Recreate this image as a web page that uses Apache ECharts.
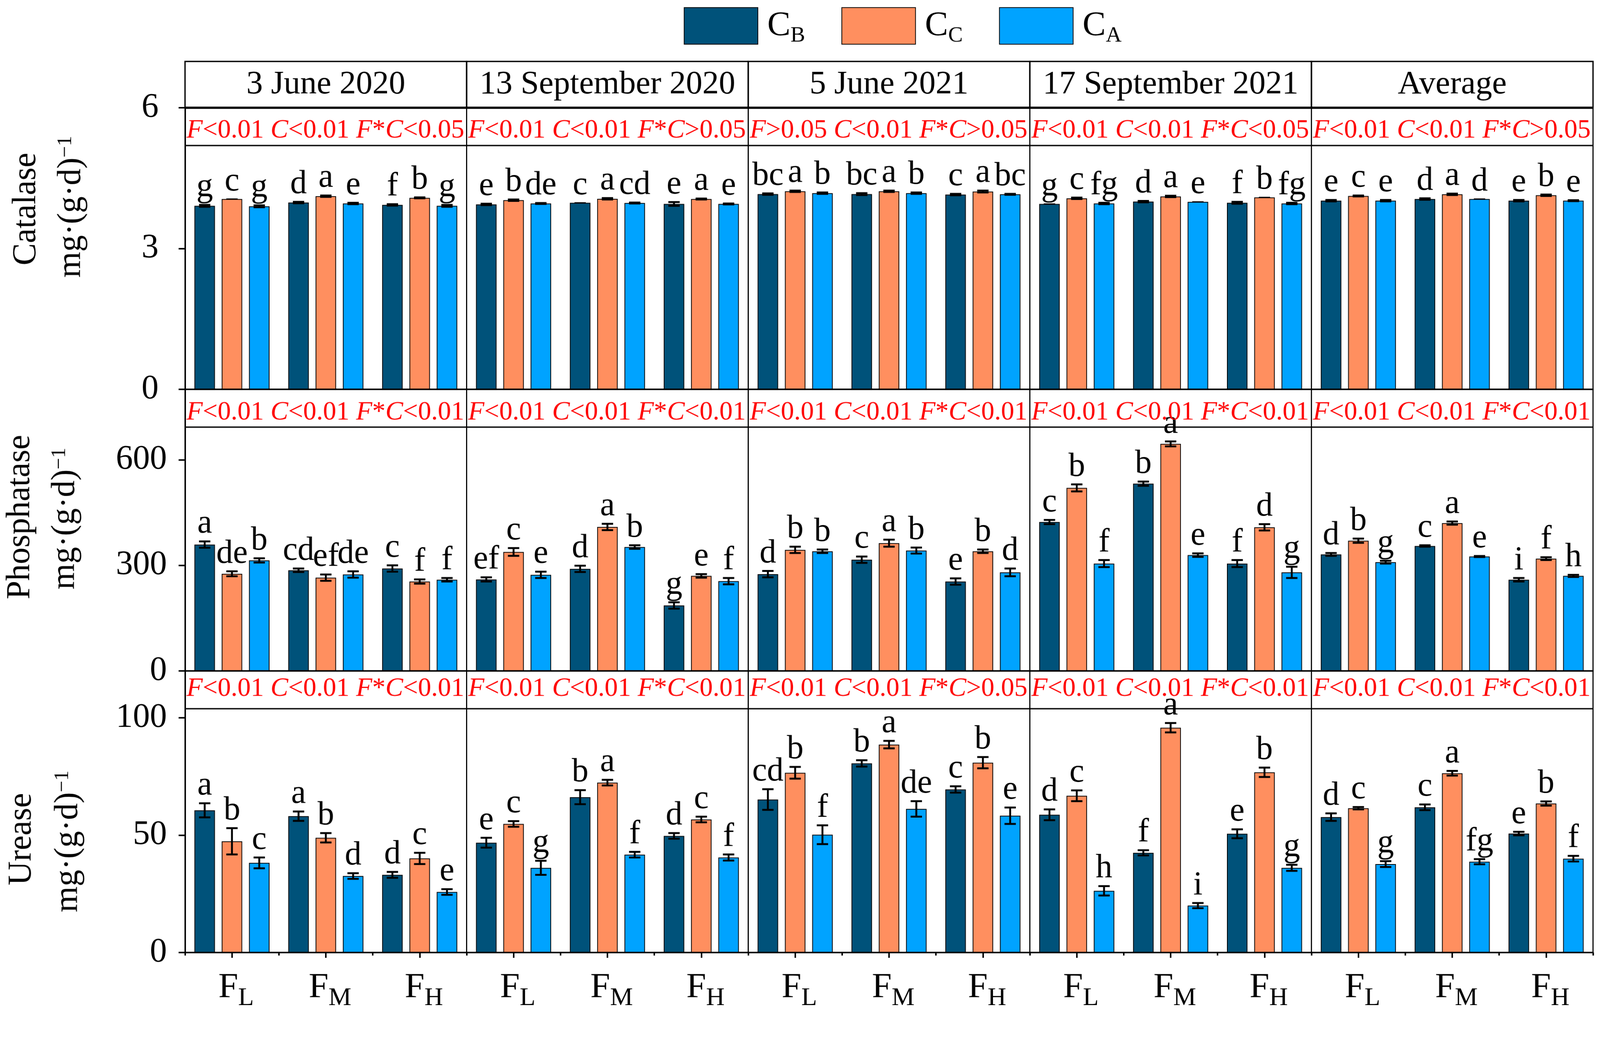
<!DOCTYPE html>
<html><head><meta charset="utf-8">
<script src="https://cdn.jsdelivr.net/npm/echarts@6/dist/echarts.min.js"></script>
<style>html,body{margin:0;padding:0;background:#fff;overflow:hidden}#c{width:4233px;height:2688px;transform-origin:0 0}</style>
</head><body><div id="c"></div>
<script>
// ---------------- DATA ----------------
const categories = ['FL', 'FM', 'FH'];
const panelTitles = ['3 June 2020', '13 September 2020', '5 June 2021', '17 September 2021', 'Average'];
const seriesNames = ['CB', 'CC', 'CA'];

// values: [panel][FL, FM, FH]
const catalaseCB = [[3.91, 3.98, 3.93], [3.94, 3.975, 3.95], [4.16, 4.16, 4.15], [3.95, 4.00, 3.975], [4.02, 4.055, 4.02]];
const catalaseCC = [[4.055, 4.115, 4.08], [4.03, 4.06, 4.055], [4.22, 4.22, 4.215], [4.07, 4.11, 4.09], [4.12, 4.155, 4.135]];
const catalaseCA = [[3.90, 3.96, 3.91], [3.96, 3.97, 3.95], [4.18, 4.18, 4.155], [3.96, 3.995, 3.96], [4.02, 4.055, 4.02]];
const catalaseErrCB = [[0.02, 0.015, 0.015], [0.015, 0.0, 0.04], [0.015, 0.02, 0.015], [0.0, 0.015, 0.02], [0.015, 0.015, 0.015]];
const catalaseErrCC = [[0.0, 0.015, 0.01], [0.015, 0.015, 0.01], [0.015, 0.015, 0.02], [0.015, 0.015, 0.0], [0.01, 0.015, 0.015]];
const catalaseErrCA = [[0.02, 0.015, 0.02], [0.01, 0.01, 0.01], [0.015, 0.015, 0.01], [0.015, 0.0, 0.015], [0.015, 0.0, 0.01]];
const catalaseLetters = [
  [['g', 'c', 'g'], ['d', 'a', 'e'], ['f', 'b', 'g']],
  [['e', 'b', 'de'], ['c', 'a', 'cd'], ['e', 'a', 'e']],
  [['bc', 'a', 'b'], ['bc', 'a', 'b'], ['c', 'a', 'bc']],
  [['g', 'c', 'fg'], ['d', 'a', 'e'], ['f', 'b', 'fg']],
  [['e', 'c', 'e'], ['d', 'a', 'd'], ['e', 'b', 'e']]
];
const catalaseStats = ['F<0.01 C<0.01 F*C<0.05', 'F<0.01 C<0.01 F*C>0.05', 'F>0.05 C<0.01 F*C>0.05', 'F<0.01 C<0.01 F*C<0.05', 'F<0.01 C<0.01 F*C>0.05'];
const catalaseTicks = { min: 0, max: 6, interval: 3 };

const phosphataseCB = [[359, 286, 291], [260, 290, 186], [275, 316, 254], [423, 532, 305], [331, 355, 259]];
const phosphataseCC = [[276, 265, 254], [338, 409, 270], [344, 363, 340], [520, 645, 408], [370, 420, 319]];
const phosphataseCA = [[314, 274, 259], [273, 352, 255], [340, 342, 280], [305, 329, 280], [309, 325, 270]];
const phosphataseErrCB = [[9, 5, 9], [6, 9, 9], [9, 9, 9], [6, 6, 10], [4, 2, 5]];
const phosphataseErrCC = [[7, 9, 6], [11, 9, 5], [9, 10, 5], [10, 7, 9], [6, 4.5, 4]];
const phosphataseErrCA = [[6, 9, 5], [9, 5, 9], [5, 8.5, 11], [10, 5, 16], [4, 1.5, 3]];
const phosphataseLetters = [
  [['a', 'de', 'b'], ['cd', 'ef', 'de'], ['c', 'f', 'f']],
  [['ef', 'c', 'e'], ['d', 'a', 'b'], ['g', 'e', 'f']],
  [['d', 'b', 'b'], ['c', 'a', 'b'], ['e', 'b', 'd']],
  [['c', 'b', 'f'], ['b', 'a', 'e'], ['f', 'd', 'g']],
  [['d', 'b', 'g'], ['c', 'a', 'e'], ['i', 'f', 'h']]
];
const phosphataseStats = ['F<0.01 C<0.01 F*C<0.01', 'F<0.01 C<0.01 F*C<0.01', 'F<0.01 C<0.01 F*C<0.01', 'F<0.01 C<0.01 F*C<0.01', 'F<0.01 C<0.01 F*C<0.01'];
const phosphataseTicks = { min: 0, max: 800, interval: 300 };

const ureaseCB = [[60.6, 58.1, 33.1], [46.8, 66.2, 49.7], [65.2, 80.6, 69.5], [58.7, 42.5, 50.6], [57.7, 61.9, 50.7]];
const ureaseCC = [[47.4, 48.9, 40.1], [54.8, 72.4, 56.7], [76.6, 88.6, 80.9], [66.8, 95.8, 76.8], [61.5, 76.4, 63.5]];
const ureaseCA = [[38.2, 32.6, 25.8], [36.1, 41.7, 40.5], [50.2, 61.2, 58.3], [26.3, 20.0, 36.1], [37.7, 38.7, 40.0]];
const ureaseErrCB = [[3, 2, 1.25], [2.1, 3, 1.2], [4.4, 1.35, 1.35], [2.3, 1.1, 1.9], [1.6, 1.2, 0.75]];
const ureaseErrCC = [[5.6, 2, 2.4], [1.2, 1.2, 1.2], [2.5, 1.6, 2.4], [2.3, 2, 2], [0.5, 1, 0.9]];
const ureaseErrCA = [[2.3, 1.2, 1.2], [3, 1.2, 1.3], [4, 3.3, 3.5], [2, 1.1, 1.3], [1.25, 1.1, 1.2]];
const ureaseLetters = [
  [['a', 'b', 'c'], ['a', 'b', 'd'], ['d', 'c', 'e']],
  [['e', 'c', 'g'], ['b', 'a', 'f'], ['d', 'c', 'f']],
  [['cd', 'b', 'f'], ['b', 'a', 'de'], ['c', 'b', 'e']],
  [['d', 'c', 'h'], ['f', 'a', 'i'], ['e', 'b', 'g']],
  [['d', 'c', 'g'], ['c', 'a', 'fg'], ['e', 'b', 'f']]
];
const ureaseStats = ['F<0.01 C<0.01 F*C<0.01', 'F<0.01 C<0.01 F*C<0.01', 'F<0.01 C<0.01 F*C>0.05', 'F<0.01 C<0.01 F*C<0.01', 'F<0.01 C<0.01 F*C<0.01'];
const ureaseTicks = { min: 0, max: 120, interval: 50 };

// ---------------- STYLE / LAYOUT ----------------
const FONT = 'Liberation Serif';
const COLORS = ['#00527A', '#FF8F5F', '#00A3FF'];
const COL0 = 489.5, PW = 745, ROW0 = 285, PH = 745, HEAD_TOP = 162.6, STRIP = 100;
const BAR_GAP = 0.33, CAT_GAP = 0.2;

const rows = [
  { name: 'Catalase', means: [catalaseCB, catalaseCC, catalaseCA], errs: [catalaseErrCB, catalaseErrCC, catalaseErrCA], letters: catalaseLetters, stats: catalaseStats, ticks: catalaseTicks, showMax: true, margin: 70, lift: 20, statsY: 61, t1: [70, 553], t2: [189, 547] },
  { name: 'Phosphatase', means: [phosphataseCB, phosphataseCC, phosphataseCA], errs: [phosphataseErrCB, phosphataseErrCC, phosphataseErrCA], letters: phosphataseLetters, stats: phosphataseStats, ticks: phosphataseTicks, showMax: false, margin: 48, lift: 8, statsY: 62, t1: [54, 1368], t2: [173, 1372] },
  { name: 'Urease', means: [ureaseCB, ureaseCC, ureaseCA], errs: [ureaseErrCB, ureaseErrCC, ureaseErrCA], letters: ureaseLetters, stats: ureaseStats, ticks: ureaseTicks, showMax: false, margin: 48, lift: 11, statsY: 48, t1: [58, 2220], t2: [181, 2226] }
];

function statsRich(s) {
  let out = '', buf = '';
  for (const ch of s) {
    if (ch === 'F' || ch === 'C') { if (buf) { out += '{n|' + buf + '}'; buf = ''; } out += '{i|' + ch + '}'; }
    else buf += ch;
  }
  if (buf) out += '{n|' + buf + '}';
  return out;
}

function makeErrSeries(g, row, p) {
  const data = [], labs = [];
  for (let c = 0; c < 3; c++) for (let k = 0; k < 3; k++) {
    data.push([c, k, row.means[k][p][c], row.errs[k][p][c]]);
    labs.push(row.letters[p][c][k]);
  }
  return {
    type: 'custom', xAxisIndex: g, yAxisIndex: g, data: data, encode: { x: 0, y: 2 }, clip: false, z: 5, silent: true,
    renderItem: function (params, api) {
      const c = api.value(0), k = api.value(1), v = api.value(2), e = api.value(3);
      const band = api.size([1, 0])[0];
      const group = band * (1 - CAT_GAP);
      const bw = group / (3 + 2 * BAR_GAP);
      const cx = api.coord([c, 0])[0] - group / 2 + bw / 2 + k * bw * (1 + BAR_GAP);
      const yT = api.coord([c, v + e])[1], yB = api.coord([c, v - e])[1];
      const cap = 15;
      const ls = { stroke: '#000', lineWidth: 5 };
      const children = [];
      if (e > 0) {
        children.push({ type: 'line', shape: { x1: cx, y1: yT, x2: cx, y2: yB }, style: ls });
        children.push({ type: 'line', shape: { x1: cx - cap, y1: yT, x2: cx + cap, y2: yT }, style: ls });
        children.push({ type: 'line', shape: { x1: cx - cap, y1: yB, x2: cx + cap, y2: yB }, style: ls });
      } else {
        children.push({ type: 'line', shape: { x1: cx - cap, y1: yT, x2: cx + cap, y2: yT }, style: { stroke: '#000', lineWidth: 3 } });
      }
      children.push({ type: 'text', style: { text: labs[params.dataIndex], x: cx, y: yT - 2, align: 'center', verticalAlign: 'bottom', fontSize: 88, fontFamily: FONT, fill: '#000' } });
      return { type: 'group', children: children };
    }
  };
}

const xRich = {
  m: { fontSize: 94, fontFamily: FONT, color: '#000', lineHeight: 94, padding: [0, 0, 0, 22] },
  s: { fontSize: 68, fontFamily: FONT, color: '#000', lineHeight: 68, padding: [56, 0, 0, 0] }
};

const option = {
  animation: false,
  backgroundColor: '#fff',
  legend: {
    data: seriesNames, left: 1804, top: 14, itemWidth: 195, itemHeight: 97, itemGap: 96, icon: 'rect', selectedMode: false,
    formatter: function (n) { return '{m|C}{s|' + n.charAt(1) + '}'; },
    textStyle: { rich: {
      m: { fontSize: 92, fontFamily: FONT, color: '#000', padding: [0, 0, 0, 20] },
      s: { fontSize: 58, fontFamily: FONT, color: '#000', padding: [52, 0, 0, 0] }
    } }
  },
  grid: [], xAxis: [], yAxis: [], series: [], graphic: []
};

rows.forEach(function (row, r) {
  for (let p = 0; p < 5; p++) {
    const g = r * 5 + p;
    const left = COL0 + p * PW, top = ROW0 + r * PH;
    option.grid.push({ left: left, top: top, width: PW, height: PH, show: true, borderColor: '#000', borderWidth: 3, outerBoundsMode: 'none', containLabel: false });
    option.xAxis.push({
      gridIndex: g, type: 'category', data: categories,
      axisLine: { show: true, lineStyle: { color: '#000', width: 4 } },
      axisTick: { show: r === 2, alignWithLabel: true, length: 14, lineStyle: { color: '#000', width: 4 } },
      axisLabel: { show: r === 2, margin: 46, interval: 0, formatter: function (v) { return '{m|F}{s|' + v.slice(1) + '}'; }, rich: xRich },
      splitLine: { show: false }
    });
    option.yAxis.push({
      gridIndex: g, type: 'value', min: row.ticks.min, max: row.ticks.max, interval: row.ticks.interval, show: p === 0,
      axisLine: { show: true, lineStyle: { color: '#000', width: 4 } },
      axisTick: { show: true, inside: false, length: 17, lineStyle: { color: '#000', width: 4 } },
      axisLabel: { margin: row.margin, fontSize: 90, fontFamily: FONT, color: '#000', showMaxLabel: row.showMax, showMinLabel: true, padding: [0, 0, row.lift * 2, 0] },
      splitLine: { show: false }
    });
    seriesNames.forEach(function (nm, k) {
      option.series.push({
        type: 'bar', name: nm, xAxisIndex: g, yAxisIndex: g, data: row.means[k][p],
        barGap: (BAR_GAP * 100) + '%', barCategoryGap: (CAT_GAP * 100) + '%', silent: true,
        itemStyle: { color: COLORS[k], borderColor: '#000', borderWidth: 2 }
      });
    });
    option.series.push(makeErrSeries(g, row, p));
    option.graphic.push({ type: 'line', z: 50, silent: true, shape: { x1: left, y1: top + STRIP, x2: left + PW, y2: top + STRIP }, style: { stroke: '#000', lineWidth: 3.5 } });
    option.graphic.push({ type: 'text', z: 50, silent: true, x: left + 4, y: top + row.statsY, style: {
      text: statsRich(row.stats[p]), align: 'left', verticalAlign: 'middle', fill: '#FF0000', fontSize: 70, fontFamily: FONT,
      rich: { i: { fontStyle: 'italic', fontSize: 70, fontFamily: FONT, fill: '#FF0000' }, n: { fontSize: 70, fontFamily: FONT, fill: '#FF0000' } }
    } });
  }
  option.graphic.push({ type: 'text', z: 50, silent: true, x: row.t1[0], y: row.t1[1], rotation: Math.PI / 2, style: { text: row.name, align: 'center', verticalAlign: 'middle', fontSize: 88, fontFamily: FONT, fill: '#000' } });
  option.graphic.push({ type: 'text', z: 50, silent: true, x: row.t2[0], y: row.t2[1], rotation: Math.PI / 2, style: {
    text: '{m|mg\u00B7(g\u00B7d)}{s|\u22121}', align: 'center', verticalAlign: 'middle', fill: '#000', fontSize: 88, fontFamily: FONT,
    rich: { m: { fontSize: 88, fontFamily: FONT, fill: '#000' }, s: { fontSize: 54, fontFamily: FONT, fill: '#000', padding: [0, 0, 30, 0] } }
  } });
});

for (let p = 0; p < 5; p++) {
  option.xAxis.push({
    gridIndex: 10 + p, type: 'category', data: categories, position: 'bottom',
    axisLine: { show: false }, axisTick: { show: true, alignWithLabel: false, length: 8, lineStyle: { color: '#000', width: 4 } },
    axisLabel: { show: false }, splitLine: { show: false }
  });
}

for (let p = 0; p < 5; p++) {
  const left = COL0 + p * PW;
  option.graphic.push({ type: 'rect', z: 50, silent: true, shape: { x: left, y: HEAD_TOP, width: PW, height: ROW0 - HEAD_TOP }, style: { fill: null, stroke: '#000', lineWidth: 3.5 } });
  option.graphic.push({ type: 'text', z: 50, silent: true, x: left + PW / 2, y: HEAD_TOP + (ROW0 - HEAD_TOP) / 2, style: { text: panelTitles[p], align: 'center', verticalAlign: 'middle', fontSize: 87, fontFamily: FONT, fill: '#000' } });
}
option.graphic.push({ type: 'line', z: 51, silent: true, shape: { x1: COL0, y1: ROW0, x2: COL0 + 5 * PW, y2: ROW0 }, style: { stroke: '#000', lineWidth: 6 } });

// fit the 4233x2688 design into the actual CSS viewport
const el = document.getElementById('c');
const S = Math.min(window.innerWidth / 4233, window.innerHeight / 2688);
if (S > 0 && Math.abs(S - 1) > 0.001) el.style.transform = 'scale(' + S + ')';
const chart = echarts.init(el, null, { devicePixelRatio: Math.max(window.devicePixelRatio || 1, 1) });
chart.setOption(option);
</script>
</body></html>
